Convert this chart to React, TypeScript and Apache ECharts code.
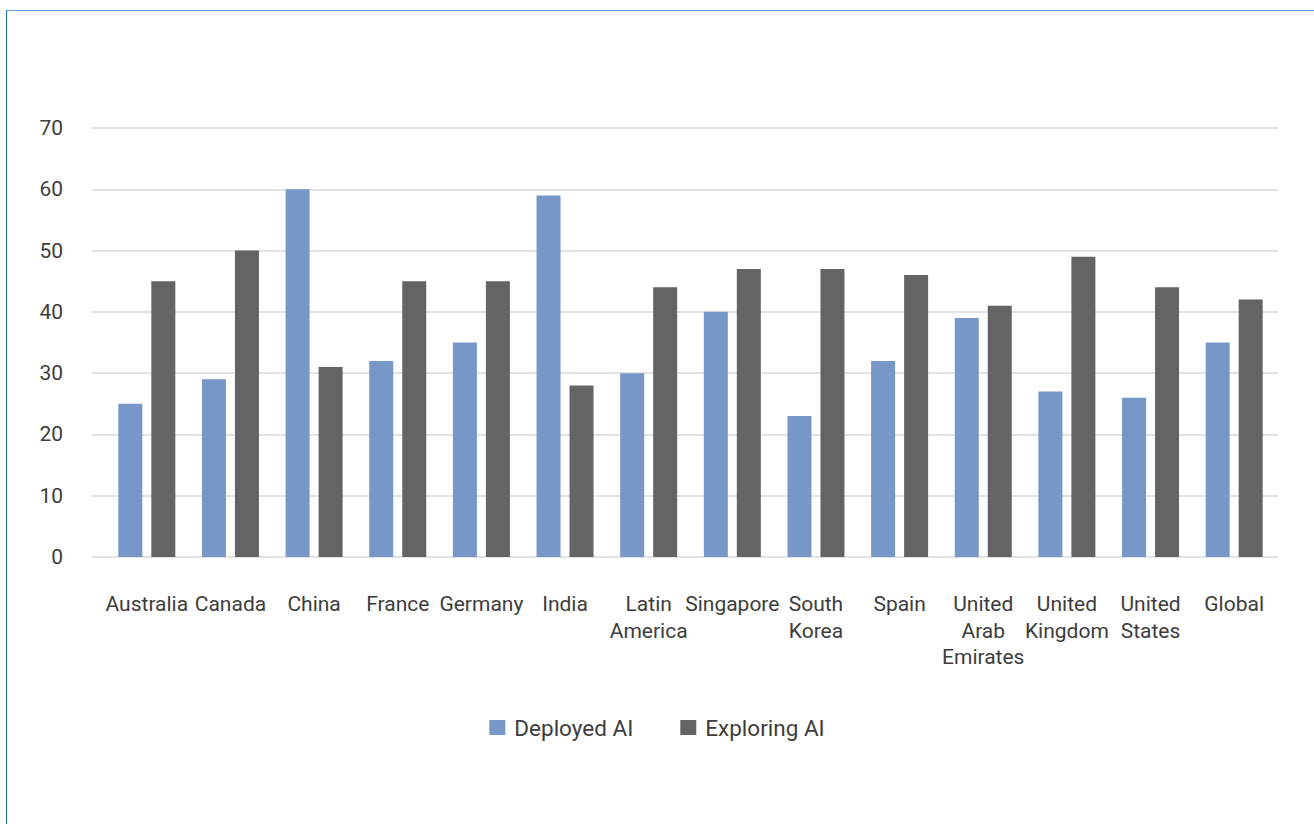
import React, { useEffect, useRef } from "react";
import * as echarts from "echarts";

const categories = [
  "Australia",
  "Canada",
  "China",
  "France",
  "Germany",
  "India",
  "Latin America",
  "Singapore",
  "South Korea",
  "Spain",
  "United Arab Emirates",
  "United Kingdom",
  "United States",
  "Global",
];

const deployedAI = [25, 29, 60, 32, 35, 59, 30, 40, 23, 32, 39, 27, 26, 35];
const exploringAI = [45, 50, 31, 45, 45, 28, 44, 47, 47, 46, 41, 49, 44, 42];

const yTicks = { min: 0, max: 70, interval: 10 };

const FONT = "Roboto, 'Noto Sans', sans-serif";
const TEXT = "#3d3d3d";
const BLUE = "#7697c7";
const GREY = "#636466";

export default function App() {
  const ref = useRef<HTMLDivElement>(null);

  useEffect(() => {
    if (!ref.current) return;
    const chart = echarts.init(ref.current, undefined, { renderer: "svg" });
    chart.setOption({
      animation: false,
      backgroundColor: "transparent",
      textStyle: { fontFamily: FONT },
      grid: [
        // value grid carrying the horizontal rules
        { left: 92, right: 36, top: 128, bottom: 267 },
        // bar grid
        { left: 105, right: 38, top: 128, bottom: 267 },
      ],
      legend: {
        data: ["Deployed AI", "Exploring AI"],
        left: "center",
        top: 711,
        icon: "rect",
        itemWidth: 16,
        itemHeight: 15,
        itemGap: 47,
        textStyle: {
          fontFamily: FONT,
          fontSize: 22.5,
          color: TEXT,
          padding: [0, 0, 0, 4],
        },
      },
      xAxis: [
        { gridIndex: 0, type: "value", show: false, min: 0, max: 1 },
        {
          gridIndex: 1,
          type: "category",
          data: categories,
          axisLine: { show: false },
          axisTick: { show: false },
          axisLabel: {
            interval: 0,
            margin: 34,
            fontFamily: FONT,
            fontSize: 21,
            lineHeight: 26.5,
            color: TEXT,
            formatter: (v: string) => v.split(" ").join("\n"),
          },
        },
      ],
      yAxis: [
        {
          gridIndex: 0,
          type: "value",
          min: yTicks.min,
          max: yTicks.max,
          interval: yTicks.interval,
          axisLine: { show: false },
          axisTick: { show: false },
          axisLabel: {
            margin: 29,
            fontFamily: FONT,
            fontSize: 21,
            color: TEXT,
          },
          splitLine: { lineStyle: { color: "#d9d9d9", width: 1.5 } },
        },
        {
          gridIndex: 1,
          type: "value",
          min: yTicks.min,
          max: yTicks.max,
          show: false,
          splitLine: { show: false },
        },
      ],
      series: [
        {
          name: "Deployed AI",
          type: "bar",
          xAxisIndex: 1,
          yAxisIndex: 1,
          data: deployedAI,
          barWidth: 24,
          barGap: "37.5%",
          itemStyle: { color: BLUE },
        },
        {
          name: "Exploring AI",
          type: "bar",
          xAxisIndex: 1,
          yAxisIndex: 1,
          data: exploringAI,
          barWidth: 24,
          barGap: "37.5%",
          itemStyle: { color: GREY },
        },
      ],
    });
    return () => chart.dispose();
  }, []);

  return (
    <div
      style={{
        position: "absolute",
        left: 0,
        top: 0,
        width: 1314,
        height: 824,
        background: "#ffffff",
        overflow: "hidden",
      }}
    >
      <div
        style={{
          position: "absolute",
          left: 6,
          top: 10,
          width: 1320,
          height: 830,
          borderLeft: "1.5px solid #1c6cb4",
          borderTop: "1.5px solid #64a0d6",
          boxSizing: "border-box",
        }}
      />
      <div
        ref={ref}
        style={{ position: "absolute", left: 0, top: 0, width: 1314, height: 824 }}
      />
    </div>
  );
}
